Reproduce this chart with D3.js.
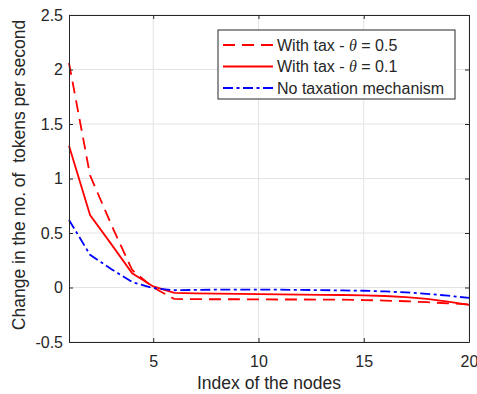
<!DOCTYPE html>
<html>
<head>
<meta charset="utf-8">
<script src="https://cdn.jsdelivr.net/npm/d3@7"></script>
<style>
  body { margin: 0; background: #fff; }
  text { font-family: "Liberation Sans", Arial, sans-serif; fill: #262626; }
</style>
</head>
<body>
<svg id="chart"></svg>
<script>
// node index 1..20
const nodes = d3.range(1, 21);
const taxHigh = [2.06, 1.03, 0.58, 0.16, 0.0, -0.105, -0.107, -0.108, -0.108, -0.109, -0.110, -0.110, -0.111, -0.112, -0.115, -0.120, -0.126, -0.135, -0.145, -0.155];
const taxLow = [1.30, 0.665, 0.40, 0.13, 0.01, -0.05, -0.054, -0.057, -0.059, -0.061, -0.063, -0.065, -0.067, -0.069, -0.072, -0.078, -0.088, -0.105, -0.13, -0.16];
const noTax = [0.62, 0.30, 0.17, 0.05, -0.005, -0.025, -0.022, -0.02, -0.02, -0.02, -0.02, -0.022, -0.024, -0.027, -0.03, -0.036, -0.045, -0.058, -0.075, -0.096];
const xTicks = [5, 10, 15, 20];
const yTicks = [-0.5, 0, 0.5, 1, 1.5, 2, 2.5];

const series = [
    { name: "With tax - θ = 0.5", values: taxHigh, color: "#ff0000", dash: "12,7" },
    { name: "With tax - θ = 0.1", values: taxLow, color: "#ff0000", dash: null },
    { name: "No taxation mechanism", values: noTax, color: "#0000ff", dash: "10,3.5,3,3.5" }
];

const margin = { top: 15, right: 8, bottom: 52, left: 69 };
const width = 477 - margin.left - margin.right;
const height = 394 - margin.top - margin.bottom;

const svg = d3.select("#chart")
    .attr("width", 477)
    .attr("height", 394);

const chart = svg.append("g")
    .attr("transform", `translate(${margin.left},${margin.top})`);

const x = d3.scaleLinear().domain([1, 20]).range([0, width]);
const y = d3.scaleLinear().domain([-0.5, 2.5]).range([height, 0]);

// grille
chart.append("g").selectAll("line.gx")
    .data(xTicks).enter().append("line")
    .attr("x1", d => x(d)).attr("x2", d => x(d))
    .attr("y1", 0).attr("y2", height)
    .attr("stroke", "#e3e3e3").attr("stroke-width", 1);
chart.append("g").selectAll("line.gy")
    .data(yTicks).enter().append("line")
    .attr("y1", d => y(d)).attr("y2", d => y(d))
    .attr("x1", 0).attr("x2", width)
    .attr("stroke", "#e3e3e3").attr("stroke-width", 1);

// courbes
const line = d3.line()
    .x((d, i) => x(nodes[i]))
    .y(d => y(d));

series.forEach(s => {
    chart.append("path")
        .datum(s.values)
        .attr("fill", "none")
        .attr("stroke", s.color)
        .attr("stroke-width", 1.8)
        .attr("stroke-dasharray", s.dash)
        .attr("d", line);
});

// axes (boite avec ticks vers l'interieur)
const axisStyle = g => {
    g.select(".domain").attr("stroke", "#262626");
    g.selectAll(".tick line").attr("stroke", "#262626");
    g.selectAll("text").style("font-size", "16px").attr("fill", "#262626");
};

chart.append("g")
    .attr("transform", `translate(0,${height})`)
    .call(d3.axisBottom(x).tickValues(xTicks).tickSize(-4).tickPadding(14).tickSizeOuter(0))
    .call(axisStyle);
chart.append("g")
    .call(d3.axisTop(x).tickValues(xTicks).tickSize(-4).tickFormat("").tickSizeOuter(0))
    .call(axisStyle);
chart.append("g")
    .call(d3.axisLeft(y).tickValues(yTicks).tickSize(-4).tickPadding(6).tickSizeOuter(0).tickFormat(d => String(d)))
    .call(axisStyle);
chart.append("g")
    .attr("transform", `translate(${width},0)`)
    .call(d3.axisRight(y).tickValues(yTicks).tickSize(-4).tickFormat("").tickSizeOuter(0))
    .call(axisStyle);

// titres des axes
chart.append("text")
    .attr("x", width / 2)
    .attr("y", height + 47)
    .attr("text-anchor", "middle")
    .style("font-size", "17.5px")
    .text("Index of the nodes");

chart.append("text")
    .attr("transform", `translate(${-44},${160}) rotate(-90)`)
    .attr("text-anchor", "middle")
    .style("font-size", "17.5px")
    .style("white-space", "pre")
    .text("Change in the no. of  tokens per second");

// legende
const legend = chart.append("g")
    .attr("transform", `translate(${218 - margin.left},${30 - margin.top})`);

legend.append("rect")
    .attr("width", 237).attr("height", 69)
    .attr("fill", "#fff")
    .attr("stroke", "#262626").attr("stroke-width", 1);

series.forEach((s, i) => {
    const ly = 15 + i * 21.5;
    legend.append("line")
        .attr("x1", 5).attr("x2", 55)
        .attr("y1", ly).attr("y2", ly)
        .attr("stroke", s.color)
        .attr("stroke-width", 1.8)
        .attr("stroke-dasharray", s.dash);
    const t = legend.append("text")
        .attr("x", 59)
        .attr("y", ly + 5.5)
        .style("font-size", "16px");
    if (s.name.includes("θ")) {
        const parts = s.name.split("θ");
        t.append("tspan").text(parts[0]);
        t.append("tspan").style("font-family", "'Liberation Serif', serif").style("font-style", "italic").text("θ");
        t.append("tspan").text(parts[1]);
    } else {
        t.text(s.name);
    }
});
</script>
</body>
</html>
